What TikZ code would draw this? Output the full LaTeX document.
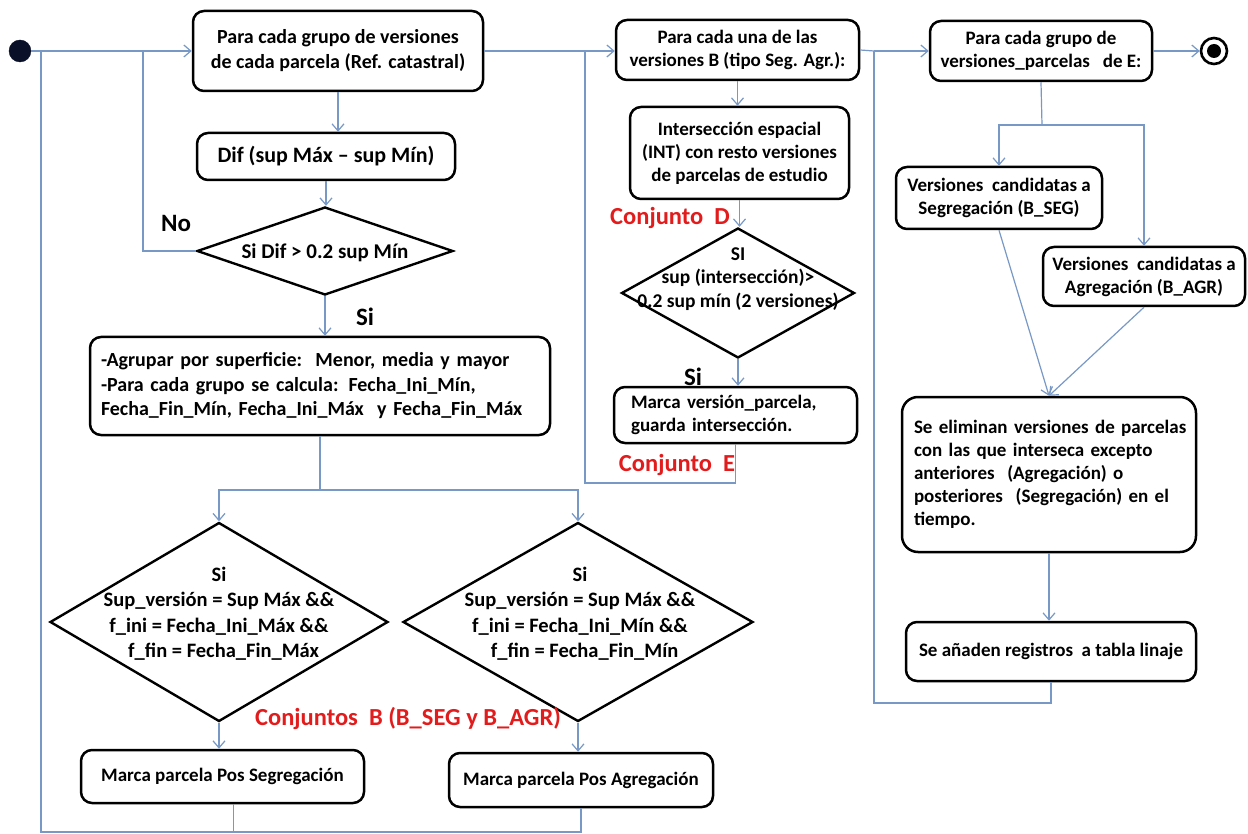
\documentclass[tikz,border=0pt]{standalone}
\usepackage{fontspec}
\setmainfont{Carlito}
\usetikzlibrary{arrows.meta,shapes.geometric}
\definecolor{flow}{RGB}{120,152,198}
\definecolor{setred}{RGB}{226,28,28}
\definecolor{startfill}{RGB}{10,16,40}

\begin{document}
\begin{tikzpicture}[x=1pt,y=-1pt,
  box/.style={draw=black, line width=2.5pt, rounded corners=11pt, fill=white,
    align=center, inner sep=0pt, font=\bfseries\fontsize{19}{23}\selectfont},
  lbox/.style={box, align=left},
  dec/.style={draw=black, line width=2.4pt, diamond, inner sep=0pt},
  dtext/.style={align=center, inner sep=0pt, font=\bfseries\fontsize{20.5}{25.5}\selectfont},
  conn/.style={draw=flow, line width=1.2pt},
  arr/.style={conn, -{Straight Barb[length=7pt,width=12pt]}},
  tag/.style={inner sep=0pt, font=\bfseries\fontsize{25}{30}\selectfont},
  settag/.style={inner sep=0pt, text=setred, font=\bfseries\fontsize{24.5}{29}\selectfont}
]
\useasboundingbox[fill=white] (0,0) rectangle (1248,834);

% initial and final states
\node[circle, fill=startfill, draw=startfill, minimum size=22pt, inner sep=0pt] (start) at (20,51) {};
\node[circle, draw=black, line width=2.6pt, minimum size=26pt, inner sep=0pt] (end) at (1214,51) {};
\node[circle, fill=black, minimum size=14pt, inner sep=0pt] (endDot) at (end) {};

% first loop: groups of versions of each parcel
\node[box, minimum width=290pt, minimum height=80pt, font=\bfseries\fontsize{20}{25}\selectfont] (b1) at (338,51)
  {Para cada grupo de versiones\\de cada parcela (Ref. catastral)};
\node[box, minimum width=258pt, minimum height=47pt, font=\bfseries\fontsize{22}{26}\selectfont] (dif) at (326,156.5)
  {Dif (sup Máx – sup Mín)};
\node[dec, minimum width=256pt, minimum height=88pt] (d1) at (325,251) {};
\node[dtext, font=\bfseries\fontsize{21}{25}\selectfont] (d1t) at (325,253) {Si Dif > 0.2 sup Mín};
\node[lbox, text width=438pt, inner xsep=11pt, minimum height=98pt, font=\bfseries\fontsize{20}{24.5}\selectfont] (agr) at (320,386)
  {\mbox{-Agrupar por superficie:\ \ Menor, media y mayor}\\\mbox{-Para cada grupo se calcula: Fecha\_Ini\_Mín,}\\\mbox{Fecha\_Fin\_Mín, Fecha\_Ini\_Máx\ \ y Fecha\_Fin\_Máx}};
\node[dec, minimum width=338pt, minimum height=199pt] (dl) at (219,622) {};
\node[dtext] (dlt) at (219,613.5)
  {Si\\Sup\_versión = Sup Máx \&\&\\f\_ini = Fecha\_Ini\_Máx \&\&\\\ \ f\_fin = Fecha\_Fin\_Máx};
\node[dec, minimum width=350pt, minimum height=199pt] (dr) at (578,622) {};
\node[dtext] (drt) at (580,613.5)
  {Si\\Sup\_versión = Sup Máx \&\&\\f\_ini = Fecha\_Ini\_Mín \&\&\\\ \ f\_fin = Fecha\_Fin\_Mín};
\node[box, minimum width=283pt, minimum height=53pt] (ms) at (222.5,776.5) {Marca parcela Pos Segregación};
\node[box, minimum width=264pt, minimum height=54pt] (ma) at (581,780) {Marca parcela Pos Agregación};

% second loop: versions of type B
\node[box, minimum width=243pt, minimum height=60pt] (bb) at (737.5,50)
  {Para cada una de las\\versiones B (tipo Seg. Agr.):};
\node[box, minimum width=219pt, minimum height=92pt] (bint) at (739.5,153)
  {Intersección espacial\\(INT) con resto versiones\\de parcelas de estudio};
\node[dec, minimum width=233pt, minimum height=130pt] (dd) at (738,293) {};
\node[dtext, font=\bfseries\fontsize{19.5}{23.5}\selectfont] (ddt) at (738,279)
  {SI\\sup (intersección)>\\0.2 sup mín (2 versiones)};
\node[lbox, text width=209pt, inner xsep=17pt, minimum height=56pt] (md) at (735.5,415)
  {\mbox{Marca versión\_parcela,}\\\mbox{guarda intersección.}};

% third loop: groups of set E
\node[box, minimum width=222pt, minimum height=60pt] (be) at (1041,51)
  {Para cada grupo de\\versiones\_parcelas\ \ \ de E:};
\node[box, minimum width=206pt, minimum height=62pt] (bseg) at (999,198)
  {Versiones\ \ candidatas a\\Segregación (B\_SEG)};
\node[box, minimum width=202pt, minimum height=59pt] (bagr) at (1144,276.5)
  {Versiones\ \ candidatas a\\Agregación (B\_AGR)};
\node[lbox, rounded corners=16pt, text width=270pt, inner xsep=12pt, minimum height=155pt] (belim) at (1049,474.5)
  {\mbox{Se eliminan\ versiones de parcelas}\\\mbox{con las que interseca\ excepto}\\\mbox{anteriores\ \ (Agregación) o}\\\mbox{posteriores\ \ (Segregación) en el}\\\mbox{tiempo.}};
\node[box, minimum width=290pt, minimum height=59pt] (bad) at (1051,651.5)
  {Se añaden registros\ \ a tabla linaje};

% labels
\node[tag] (no) at (176,223) {No};
\node[tag] (si1) at (365,317) {Si};
\node[tag] (si2) at (693,377) {Si};
\node[settag] (cD) at (670,218) {Conjunto\ \ D};
\node[settag] (cE) at (677,465) {Conjunto\ \ E};
\node[settag] (cB) at (408,718) {Conjuntos\ \ B (B\_SEG y B\_AGR)};

% junction points
\coordinate (noTop) at (143,51);
\coordinate (loopTop) at (41,51);
\coordinate (loopBot) at (41,832);
\coordinate (j2) at (585,51);
\coordinate (jE) at (585,483);
\coordinate (j3) at (874,51);
\coordinate (jA) at (874,703);
\coordinate (split) at (320,490);
\coordinate (splitE) at (1042,125);

% connectors, first loop
\draw[arr] (start.east) -- (start.east -| b1.west);
\draw[arr] (b1.south) -- (b1.south |- dif.north);
\draw[arr] (dif.south) -- (dif.south |- d1.north);
\draw[conn] (d1.west) -| (noTop);
\draw[arr] (d1.south) -- (d1.south |- agr.north);
\draw[conn] (agr.south) -- (split);
\draw[arr] (split) -| (dl.north);
\draw[arr] (split) -| (dr.north);
\draw[arr] (dl.south) -- (dl.south |- ms.north);
\draw[arr] (dr.south) -- (dr.south |- ma.north);
\draw[conn] ([xshift=11pt]ms.south) -- ([xshift=11pt]ms.south |- loopBot);
\draw[conn] (ma.south) |- (loopBot) -- (loopTop);

% connectors, second loop
\draw[conn] (b1.east) -- (j2);
\draw[arr] (j2) -- (j2 -| bb.west);
\draw[arr] (bb.south) -- (bb.south |- bint.north);
\draw[arr] (bint.south) -- (bint.south |- dd.north);
\draw[arr] (dd.south) -- (dd.south |- md.north);
\draw[conn] (md.south) |- (jE) -- (j2);

% connectors, third loop
\draw[conn] (bb.east) -- (j3);
\draw[arr] (j3) -- (j3 -| be.west);
\draw[arr] (be.east) -- (end.west);
\draw[conn] (be.south) -- (splitE);
\draw[arr] (splitE) -| (bseg.north);
\draw[arr] (splitE) -| (bagr.north);
\draw[arr] (bseg.south) -- (belim.north);
\draw[arr] (bagr.south) -- (belim.north);
\draw[arr] (belim.south) -- (belim.south |- bad.north);
\draw[conn] (bad.south) |- (jA) -- (j3);
\end{tikzpicture}
\end{document}
